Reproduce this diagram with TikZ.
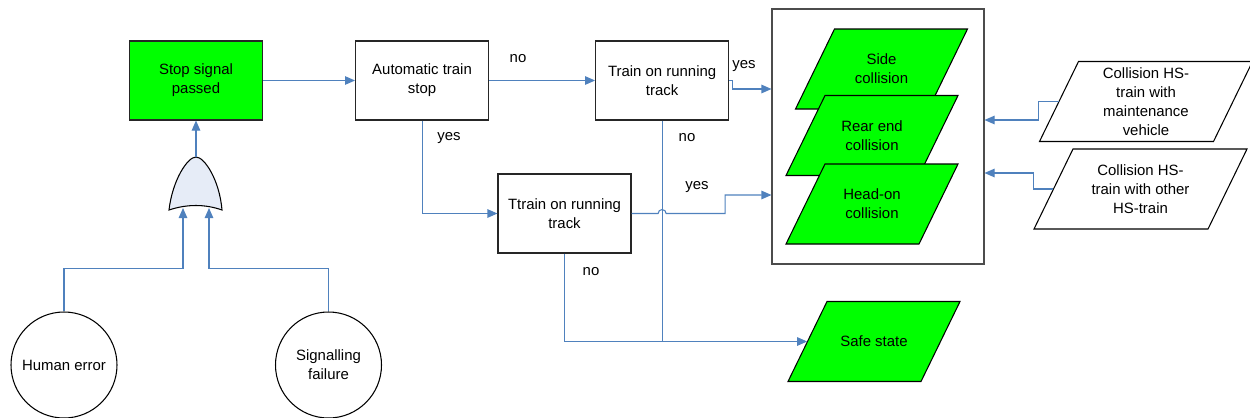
\documentclass[tikz,border=0pt]{standalone}
\usepackage{fontspec}
\setmainfont{Liberation Sans}
\usetikzlibrary{arrows.meta,positioning,calc}
\definecolor{linkblue}{RGB}{79,129,189}
\definecolor{eventgreen}{RGB}{0,255,0}
\definecolor{gatefill}{RGB}{230,236,247}

\tikzset{
  slab/.pic = {\path[pic actions] (-#1-0.39,-0.8) -- (-#1+0.39,0.8)
    -- (#1+0.39,0.8) -- (#1-0.39,-0.8) -- cycle;}
}

\begin{document}
\begin{tikzpicture}[font=\fontsize{8.5}{10.9}\selectfont,
  box/.style = {draw=black!85, line width=0.6pt, minimum width=2.66cm,
    minimum height=1.58cm, align=center, inner sep=0pt},
  event/.style = {minimum width=2.66cm, minimum height=1.6cm, align=center,
    inner sep=0pt},
  cause/.style = {event, minimum width=3.48cm},
  slabline/.style = {draw=black, line width=0.6pt},
  basic/.style = {circle, draw=black, line width=0.6pt, minimum size=2.12cm,
    align=center, inner sep=0pt},
  link/.style = {draw=linkblue, line width=0.6pt},
  arrow/.style = {link, -{Triangle[length=0.2cm,width=0.17cm]}},
  answer/.style = {inner sep=0pt}]

\useasboundingbox (0,0) rectangle (25,-8.34);

\node[box, fill=eventgreen] (stop) at (3.92,-1.61) {Stop signal\\passed};
\node[box, right=1.84cm of stop] (auto) {Automatic train\\stop};
\node[box, right=2.12cm of auto] (track) {Train on running\\track};
\node[box] (ttrack) at (11.29,-4.27) {Ttrain on running\\track};

\node[draw=black!70, line width=0.6pt, minimum width=4.24cm,
  minimum height=5.1cm] (frame) at (17.56,-2.73) {};
\pic[slabline, fill=eventgreen] at (17.63,-1.38) {slab=1.33};
\node[event] (side) at (17.63,-1.38) {Side\\collision};
\pic[slabline, fill=eventgreen] at (17.44,-2.71) {slab=1.33};
\node[event] (rear) at (17.44,-2.71) {Rear end\\collision};
\pic[slabline, fill=eventgreen] at (17.44,-4.08) {slab=1.33};
\node[event] (head) at (17.44,-4.08) {Head-on\\collision};
\pic[slabline, fill=eventgreen] at (17.48,-6.83) {slab=1.33};
\node[event] (safe) at (17.48,-6.83) {Safe state};

\pic[slabline, fill=white] at (22.92,-2.03) {slab=1.74};
\node[cause] (maint) at (22.92,-2.03) {Collision HS-\\train with\\maintenance\\vehicle};
\pic[slabline, fill=white] at (22.81,-3.78) {slab=1.74};
\node[cause] (other) at (22.81,-3.78) {Collision HS-\\train with other\\HS-train};

\node[basic] (human) at (1.28,-7.3) {Human error};
\node[basic] (signal) at (6.57,-7.3) {Signalling\\failure};

\draw[line width=0.6pt, fill=gatefill] (3.38,-4.2)
  .. controls (3.45,-3.6) and (3.75,-3.14) .. (3.92,-3.14)
  .. controls (4.09,-3.14) and (4.39,-3.6) .. (4.44,-4.2)
  .. controls (4.1,-4.08) and (3.74,-4.08) .. cycle;
\coordinate (gate) at (3.92,-3.14);
\coordinate (gatein1) at (3.66,-4.16);
\coordinate (gatein2) at (4.18,-4.16);

\draw[arrow] (gate) -- (stop);
\draw[arrow] (human.north) -- ++(0,0.86) -| (gatein1);
\draw[arrow] (signal.north) -- ++(0,0.86) -| (gatein2);

\draw[arrow] (stop) -- (auto);
\draw[arrow] (auto) -- (track);
\draw[arrow] (auto.south) |- (ttrack.west);
\draw[link] (track.south) -- (track.south |- safe.west);
\draw[arrow] (ttrack.south) |- (safe.west);
\draw[arrow] (track.east) -- ++(0.06,0) |- ([yshift=0.95cm]frame.west);
\draw[arrow] (ttrack.east) -- ($(track.south |- ttrack.east)+(-0.08,0)$)
  arc[start angle=180, end angle=0, radius=0.08] -- ++(1.18,0)
  |- ([yshift=-1.17cm]frame.west);
\draw[arrow] (maint.west) -- ++(-0.4,0) |- ([yshift=0.33cm]frame.east);
\draw[arrow] (other.west) -- ++(-0.4,0) |- ([yshift=-0.73cm]frame.east);

\node[answer] at (10.36,-1.18) {no};
\node[answer] at (8.98,-2.76) {yes};
\node[answer] at (13.74,-2.76) {no};
\node[answer] at (14.88,-1.32) {yes};
\node[answer] at (13.94,-3.74) {yes};
\node[answer] at (11.82,-5.44) {no};
\end{tikzpicture}
\end{document}
